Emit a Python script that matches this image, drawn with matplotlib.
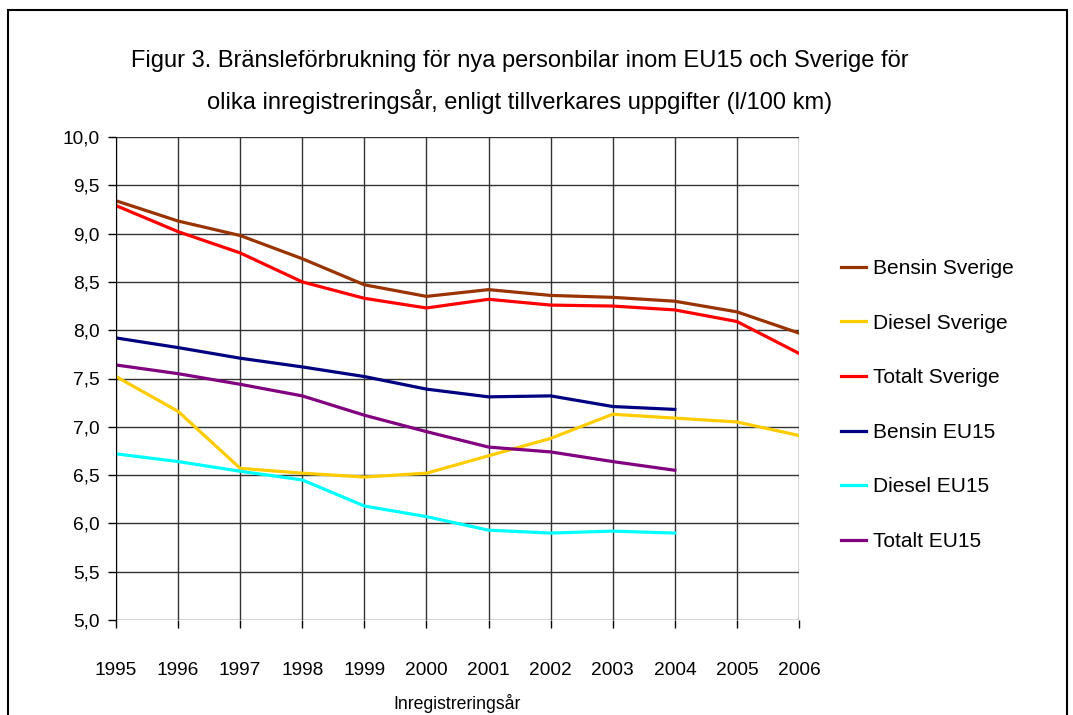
import matplotlib.pyplot as plt
from matplotlib.patches import Rectangle

plt.rcParams['font.family'] = ['Liberation Sans', 'DejaVu Sans']

years = [1995, 1996, 1997, 1998, 1999, 2000, 2001, 2002, 2003, 2004, 2005, 2006]
years_eu = years[:10]

bensin_se = [9.34, 9.13, 8.98, 8.74, 8.47, 8.35, 8.42, 8.36, 8.34, 8.30, 8.19, 7.97]
diesel_se = [7.52, 7.16, 6.57, 6.52, 6.48, 6.52, 6.70, 6.88, 7.13, 7.09, 7.05, 6.91]
totalt_se = [9.29, 9.02, 8.80, 8.50, 8.33, 8.23, 8.32, 8.26, 8.25, 8.21, 8.09, 7.76]
bensin_eu = [7.92, 7.82, 7.71, 7.62, 7.52, 7.39, 7.31, 7.32, 7.21, 7.18]
diesel_eu = [6.72, 6.64, 6.54, 6.45, 6.18, 6.07, 5.93, 5.90, 5.92, 5.90]
totalt_eu = [7.64, 7.55, 7.44, 7.32, 7.12, 6.95, 6.79, 6.74, 6.64, 6.55]

yticks = [5.0, 5.5, 6.0, 6.5, 7.0, 7.5, 8.0, 8.5, 9.0, 9.5, 10.0]

fig = plt.figure(figsize=(10.73, 7.15), dpi=100)
ax = fig.add_axes([116/1073, 1-620/715, (799-116)/1073, (620-137)/715])

lw = 2.3
ax.plot(years, bensin_se, color='#993300', lw=lw, label='Bensin Sverige')
ax.plot(years, diesel_se, color='#FFCC00', lw=lw, label='Diesel Sverige')
ax.plot(years, totalt_se, color='#FF0000', lw=lw, label='Totalt Sverige')
ax.plot(years_eu, bensin_eu, color='#000080', lw=lw, label='Bensin EU15')
ax.plot(years_eu, diesel_eu, color='#00FFFF', lw=lw, label='Diesel EU15')
ax.plot(years_eu, totalt_eu, color='#800080', lw=lw, label='Totalt EU15')

ax.set_xlim(1995, 2006)
ax.set_ylim(5, 10)
ax.set_xticks(years)
ax.set_yticks(yticks)
ax.set_yticklabels([("%.1f" % v).replace('.', ',') for v in yticks])
ax.grid(True, color='#333333', lw=1)
ax.set_axisbelow(True)
for s in ['top', 'right', 'bottom']:
    ax.spines[s].set_visible(False)
ax.spines['left'].set_color('black')
ax.tick_params(direction='out', length=6, width=1, labelsize=13.8, pad=6)
ax.tick_params(axis='x', pad=24)
ax.set_xlabel('Inregistreringsår', fontsize=12.7, labelpad=11)

fig.legend(loc='center left', bbox_to_anchor=(822/1073, 1-405/715), frameon=False,
           fontsize=15, labelspacing=1.71, handlelength=1.2, handletextpad=0.35)

fig.text(520/1073, 1-61/715, 'Figur 3. Bränsleförbrukning för nya personbilar inom EU15 och Sverige för',
         ha='center', va='center', fontsize=17)
fig.text(520/1073, 1-101/715, 'olika inregistreringsår, enligt tillverkares uppgifter (l/100 km)',
         ha='center', va='center', fontsize=17)

fig.patches.append(Rectangle((8/1073, -0.05), (1067-8)/1073, 1-10/715+0.05,
                             transform=fig.transFigure, fill=False, edgecolor='black', lw=1.5))

fig.savefig('out.png', dpi=100)
